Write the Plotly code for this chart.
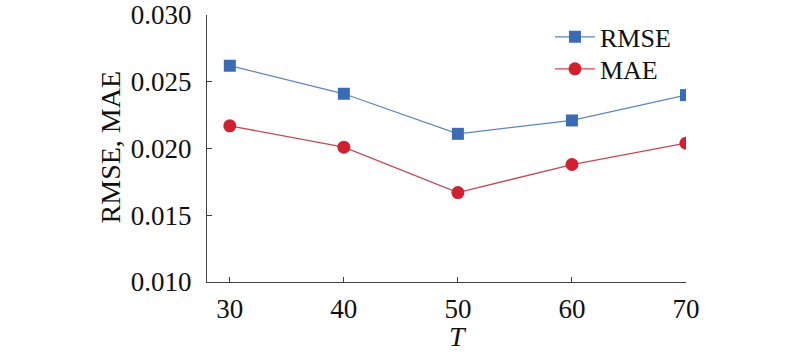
import plotly.graph_objects as go

T = [30, 40, 50, 60, 70]
rmse = [0.0262, 0.0241, 0.0211, 0.0221, 0.0240]
mae = [0.0217, 0.0201, 0.0167, 0.0188, 0.0204]
y_ticks = [0.010, 0.015, 0.020, 0.025, 0.030]
y_labels = ["0.010", "0.015", "0.020", "0.025", "0.030"]

fig = go.Figure()
fig.add_trace(go.Scatter(x=T, y=rmse, name="RMSE", mode="lines+markers",
                         line=dict(color="#5b86c2", width=1.3),
                         marker=dict(symbol="square", size=12, color="#3a6cb3"),
                         legend="legend", showlegend=True))
fig.add_trace(go.Scatter(x=T, y=mae, name="MAE", mode="lines+markers",
                         line=dict(color="#c44a52", width=1.3),
                         marker=dict(symbol="circle", size=13, color="#cf2130"),
                         legend="legend2", showlegend=True))

FAM = "Liberation Serif"
font = dict(family=FAM, size=27, color="#111")
leg = dict(x=0.716, xanchor="left", yanchor="middle", bgcolor="rgba(0,0,0,0)",
           font=dict(family=FAM, size=26, color="#111"), itemwidth=40)
fig.update_layout(
    width=800, height=355, margin=dict(l=207, r=114, t=15, b=73, autoexpand=False),
    paper_bgcolor="white", plot_bgcolor="white", font=font,
    legend=dict(leg, y=0.918),
    legend2=dict(leg, y=0.798),
    xaxis=dict(range=[28, 70], tickvals=T, ticks="inside", ticklen=5,
               showline=True, linecolor="#404040", linewidth=1.3, tickcolor="#404040",
               showgrid=False, zeroline=False, automargin=False,
               ticklabelstandoff=2),
    yaxis=dict(range=[0.010, 0.030], tickvals=y_ticks, ticktext=y_labels,
               ticks="inside", ticklen=5, showline=True, linecolor="#404040",
               linewidth=1.3, tickcolor="#404040", showgrid=False, zeroline=False,
               automargin=False, ticklabelstandoff=9),
)
fig.add_annotation(x=50, xref="x", y=-0.205, yref="paper", yanchor="middle",
                   text="<i>T</i>", showarrow=False, font=dict(family=FAM, size=28))
fig.add_annotation(x=-0.202, xref="paper", y=0.505, yref="paper", xanchor="center",
                   yanchor="middle", textangle=-90, text="RMSE, MAE",
                   showarrow=False, font=dict(family=FAM, size=28))
fig.write_html("out.html", config={"displayModeBar": False},
               post_script="document.body.style.margin='0';")
